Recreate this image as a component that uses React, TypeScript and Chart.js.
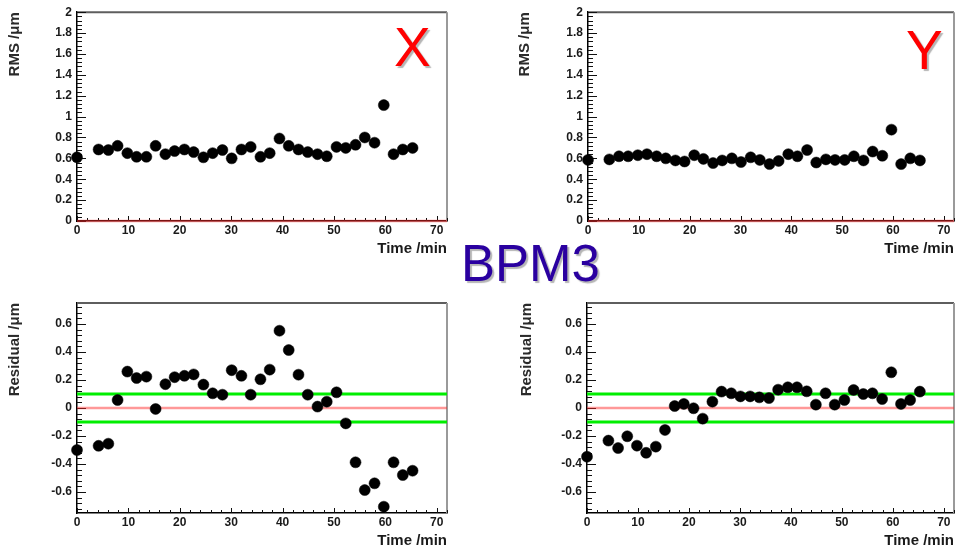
import React, { useEffect, useRef } from "react";
import { Chart, registerables } from "chart.js";

Chart.register(...registerables);

// ---- data ----
const times = [0, 4.2, 6.1, 7.9, 9.8, 11.6, 13.5, 15.3, 17.2, 19.0, 20.9, 22.7, 24.6, 26.4, 28.3, 30.1, 32.0, 33.8, 35.7, 37.5, 39.4, 41.2, 43.1, 44.9, 46.8, 48.6, 50.5, 52.3, 54.2, 56.0, 57.9, 59.7, 61.6, 63.4, 65.3];
const rmsX = [0.61, 0.685, 0.68, 0.72, 0.65, 0.615, 0.615, 0.72, 0.64, 0.67, 0.685, 0.66, 0.61, 0.65, 0.68, 0.60, 0.685, 0.71, 0.615, 0.65, 0.79, 0.72, 0.685, 0.66, 0.64, 0.62, 0.71, 0.70, 0.73, 0.80, 0.75, 1.11, 0.64, 0.685, 0.70];
const rmsY = [0.585, 0.59, 0.62, 0.62, 0.63, 0.64, 0.62, 0.60, 0.58, 0.57, 0.63, 0.595, 0.555, 0.58, 0.60, 0.565, 0.61, 0.585, 0.545, 0.575, 0.64, 0.62, 0.68, 0.56, 0.59, 0.585, 0.585, 0.62, 0.58, 0.665, 0.625, 0.875, 0.545, 0.60, 0.58];
const resX = [-0.30, -0.27, -0.255, 0.057, 0.26, 0.214, 0.224, -0.007, 0.17, 0.22, 0.23, 0.24, 0.167, 0.105, 0.095, 0.27, 0.23, 0.095, 0.205, 0.274, 0.552, 0.414, 0.238, 0.095, 0.01, 0.045, 0.112, -0.11, -0.388, -0.586, -0.538, -0.705, -0.388, -0.479, -0.448];
const resY = [-0.348, -0.233, -0.286, -0.202, -0.269, -0.32, -0.276, -0.157, 0.014, 0.029, -0.002, -0.076, 0.045, 0.117, 0.105, 0.083, 0.083, 0.076, 0.071, 0.131, 0.148, 0.148, 0.119, 0.024, 0.105, 0.024, 0.057, 0.129, 0.1, 0.105, 0.064, 0.255, 0.029, 0.057, 0.117];

const xTicks = [0, 10, 20, 30, 40, 50, 60, 70];
const rmsTicks = [0, 0.2, 0.4, 0.6, 0.8, 1, 1.2, 1.4, 1.6, 1.8, 2];
const resTicks = [-0.6, -0.4, -0.2, 0, 0.2, 0.4, 0.6];
const xRange = [0, 72];
const rmsRange = [0, 2];
const resRange = [-0.75, 0.75];
const zeroLevel = 0;
const bandLevels = [-0.1, 0.1];

const FONT = "'Liberation Sans', Arial, sans-serif";
const TXT = "#1a1a1a";

type Panel = {
  left: number;
  top: number;
  values: number[];
  yTitle: string;
  yTicks: number[];
  yRange: number[];
  bands: boolean;
  pad: { left: number; right: number; top: number; bottom: number };
  yWidth: number;
};

const panels: Panel[] = [
  { left: 0, top: 0, values: rmsX, yTitle: "RMS /\u03bcm", yTicks: rmsTicks, yRange: rmsRange, bands: false, pad: { left: 0, right: 33, top: 12, bottom: 18 }, yWidth: 77 },
  { left: 480, top: 0, values: rmsY, yTitle: "RMS /\u03bcm", yTicks: rmsTicks, yRange: rmsRange, bands: false, pad: { left: 30, right: 2, top: 12, bottom: 18 }, yWidth: 78 },
  { left: 0, top: 274, values: resX, yTitle: "Residual /\u03bcm", yTicks: resTicks, yRange: resRange, bands: true, pad: { left: 0, right: 33, top: 29, bottom: 0 }, yWidth: 77 },
  { left: 480, top: 274, values: resY, yTitle: "Residual /\u03bcm", yTicks: resTicks, yRange: resRange, bands: true, pad: { left: 32, right: 3, top: 29, bottom: 0 }, yWidth: 75 },
];

const framePlugin = {
  id: "rootFrame",
  beforeDatasetsDraw(chart: any) {
    const { ctx, chartArea: a, scales } = chart;
    const xs = scales.x;
    const ys = scales.y;
    ctx.save();
    // top and right frame lines
    ctx.lineWidth = 2;
    ctx.strokeStyle = "#5e5e5e";
    ctx.beginPath();
    ctx.moveTo(a.left, a.top);
    ctx.lineTo(a.right, a.top);
    ctx.stroke();
    ctx.strokeStyle = "#9a9a9a";
    ctx.beginPath();
    ctx.moveTo(a.right, a.top);
    ctx.lineTo(a.right, a.bottom);
    ctx.stroke();
    // inner ticks
    ctx.strokeStyle = "#111";
    ctx.lineWidth = 1;
    const yt = ys.ticks.map((t: any) => t.value);
    const yStep = yt[1] - yt[0];
    const yMinor = yStep / 5;
    ctx.beginPath();
    for (let v = yt[0] - Math.floor((yt[0] - ys.min) / yMinor + 1e-6) * yMinor; v <= ys.max + 1e-9; v += yMinor) {
      const p = Math.round(ys.getPixelForValue(v)) + 0.5;
      const isMajor = Math.abs((v - yt[0]) / yStep - Math.round((v - yt[0]) / yStep)) < 1e-4;
      ctx.moveTo(a.left, p);
      ctx.lineTo(a.left + (isMajor ? 9 : 5), p);
    }
    const xt = xs.ticks.map((t: any) => t.value);
    const xStep = xt[1] - xt[0];
    const xMinor = xStep / 5;
    for (let v = xs.min; v <= xs.max + 1e-9; v += xMinor) {
      const p = Math.round(xs.getPixelForValue(v)) + 0.5;
      const isMajor = Math.abs(v / xStep - Math.round(v / xStep)) < 1e-4;
      ctx.moveTo(p, a.bottom);
      ctx.lineTo(p, a.bottom - (isMajor ? 5 : 3));
    }
    ctx.stroke();
    ctx.restore();
  },
};

function PanelChart({ p }: { p: Panel }) {
  const ref = useRef<HTMLCanvasElement | null>(null);
  useEffect(() => {
    if (!ref.current) return;
    const pts = times.map((t, i) => ({ x: t, y: p.values[i] }));
    const hline = (level: number) => [
      { x: xRange[0], y: level },
      { x: xRange[1], y: level },
    ];
    const datasets: any[] = [
      {
        data: pts,
        pointRadius: 5.5,
        pointHoverRadius: 5.5,
        backgroundColor: "#000",
        borderColor: "#000",
        borderWidth: 0.5,
        showLine: false,
        clip: false,
      },
    ];
    if (p.bands) {
      bandLevels.forEach((lv) =>
        datasets.push({
          data: hline(lv),
          showLine: true,
          borderColor: "#00ee00",
          borderWidth: 3,
          pointRadius: 0,
          clip: false,
        })
      );
    }
    datasets.push({
      data: hline(zeroLevel),
      showLine: true,
      borderColor: "rgba(255,40,40,0.48)",
      borderWidth: 2.5,
      pointRadius: 0,
      clip: false,
    });

    const fmt = (v: any) => String(Math.round(Number(v) * 100) / 100);
    const chart = new Chart(ref.current, {
      type: "scatter",
      data: { datasets },
      plugins: [framePlugin],
      options: {
        animation: false,
        responsive: false,
        maintainAspectRatio: false,
        events: [],
        layout: { padding: p.pad },
        plugins: { legend: { display: false }, tooltip: { enabled: false } },
        scales: {
          x: {
            type: "linear",
            min: xRange[0],
            max: xRange[1],
            afterBuildTicks: (s: any) => {
              s.ticks = xTicks.map((v) => ({ value: v }));
            },
            afterFit: (s: any) => {
              s.height = 35;
            },
            grid: { display: false, drawTicks: false },
            border: { display: true, color: "#000", width: 1.5 },
            ticks: {
              font: { family: FONT, size: 12, weight: "bold" },
              color: TXT,
              padding: 2,
              maxRotation: 0,
              autoSkip: false,
              callback: fmt,
            },
            title: {
              display: true,
              text: "Time /min",
              align: "end",
              color: TXT,
              font: { family: FONT, size: 15, weight: "bold" },
              padding: { top: 0, bottom: -2 },
            },
          },
          y: {
            type: "linear",
            min: p.yRange[0],
            max: p.yRange[1],
            afterBuildTicks: (s: any) => {
              s.ticks = p.yTicks.map((v) => ({ value: v }));
            },
            afterFit: (s: any) => {
              s.width = p.yWidth;
            },
            grid: { display: false, drawTicks: false },
            border: { display: true, color: "#000", width: 1.5 },
            ticks: {
              font: { family: FONT, size: 12, weight: "bold" },
              color: TXT,
              padding: 5,
              autoSkip: false,
              callback: fmt,
            },
            title: {
              display: true,
              text: p.yTitle,
              align: "end",
              color: "#2a2a2a",
              font: { family: FONT, size: 15, weight: "bold" },
              padding: { top: 6, bottom: 0 },
            },
          },
        },
      } as any,
    });
    return () => chart.destroy();
  }, [p]);
  return (
    <canvas
      ref={ref}
      width={480}
      height={274}
      style={{ position: "absolute", left: p.left, top: p.top, width: 480, height: 274 }}
    />
  );
}

const bigText = (color: string, size: number): React.CSSProperties => ({
  position: "absolute",
  fontFamily: FONT,
  fontSize: size,
  lineHeight: 1,
  color,
  textShadow: "2px 2px 1px rgba(120,120,120,0.55)",
  whiteSpace: "nowrap",
});

export default function App() {
  useEffect(() => {
    document.body.style.margin = "0";
  }, []);
  return (
    <div style={{ position: "absolute", left: 0, top: 0, width: 960, height: 548, background: "#fff", overflow: "hidden" }}>
      {panels.map((p, i) => (
        <PanelChart key={i} p={p} />
      ))}
      <div style={{ ...bigText("#ff0000", 55), left: 394, top: 20 }}>X</div>
      <div style={{ ...bigText("#ff0000", 55), left: 906, top: 23 }}>Y</div>
      <div style={{ ...bigText("#2a00a0", 51), left: 461, top: 238 }}>BPM3</div>
    </div>
  );
}
